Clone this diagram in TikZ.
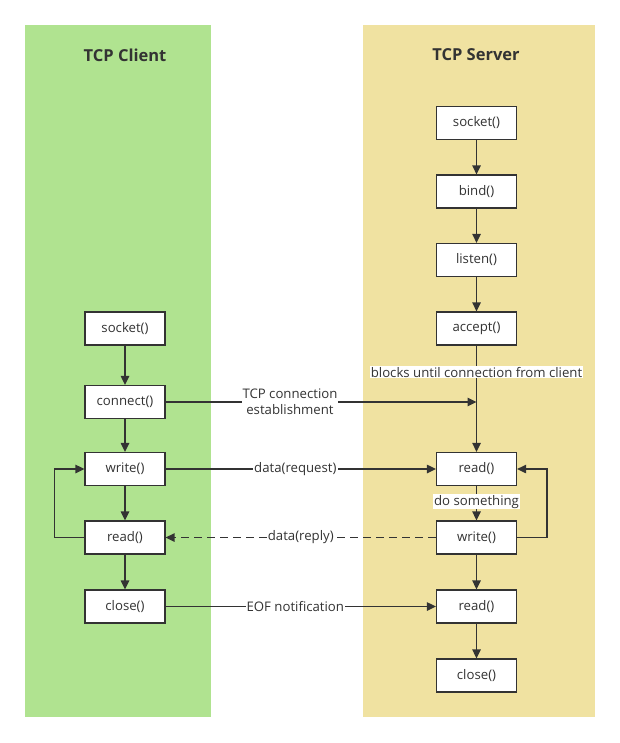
\documentclass[tikz,border=0pt]{standalone}
\usepackage{fontspec}
\setmainfont{Open Sans}
\usetikzlibrary{arrows.meta}
\definecolor{cgreen}{RGB}{176,227,144}
\definecolor{cyellow}{RGB}{240,226,161}
\definecolor{cline}{RGB}{51,51,51}
\begin{document}
\begin{tikzpicture}[x=1pt,y=-1pt,
  fn/.style={draw=cline, line width=1.3pt, fill=white, minimum width=80pt, minimum height=33pt, inner sep=0pt, font=\fontsize{13.2}{15}\selectfont, text=cline},
  arr/.style={draw=cline, line width=1.4pt, -{Triangle[length=9pt,width=8.5pt]}},
  lbl/.style={fill=white, inner sep=1pt, font=\fontsize{13.2}{15}\selectfont, text=cline},
  ttl/.style={font=\fontsize{16.5}{19}\selectfont\bfseries, text=cline},
  lane/.style={inner sep=0pt, anchor=north west, draw=none}]
\useasboundingbox (0,0) rectangle (620,743);
\fill[white] (0,0) rectangle (620,743);
\node[lane, fill=cgreen, minimum width=186pt, minimum height=692pt] (clientlane) at (25,25) {};
\node[lane, fill=cyellow, minimum width=232pt, minimum height=692pt] (serverlane) at (363,25) {};
\node[ttl] (ctitle) at (125,55) {TCP Client};
\node[ttl] (stitle) at (476,55) {TCP Server};
% client
\node[fn] (cs) at (125,328.5) {socket()};
\node[fn] (cc) at (125,402) {connect()};
\node[fn] (cw) at (125,469) {write()};
\node[fn] (cr) at (125,537.5) {read()};
\node[fn] (cl) at (125,606.5) {close()};
% server
\node[fn] (ss) at (476.5,123) {socket()};
\node[fn] (sb) at (476.5,191.5) {bind()};
\node[fn] (sl) at (476.5,260) {listen()};
\node[fn] (sa) at (476.5,328.5) {accept()};
\node[fn] (sr) at (476.5,469) {read()};
\node[fn] (sw) at (476.5,537.5) {write()};
\node[fn] (sr2) at (476.5,606.5) {read()};
\node[fn] (sc) at (476.5,675.5) {close()};
\coordinate (meet) at (476.5,402);
% client flow
\draw[arr] (cs) -- (cc);
\draw[arr] (cc) -- (cw);
\draw[arr] (cw) -- (cr);
\draw[arr] (cr) -- (cl);
\draw[arr] (cr.west) -- ++(-30,0) |- (cw.west);
% server flow
\draw[arr] (ss) -- (sb);
\draw[arr] (sb) -- (sl);
\draw[arr] (sl) -- (sa);
\draw[arr] (sa) -- node[lbl, pos=0.25] {blocks until connection from client} (sr);
\draw[arr] (sr) -- node[lbl, pos=0.46] {do something} (sw);
\draw[arr] (sw) -- (sr2);
\draw[arr] (sr2) -- (sc);
\draw[arr] (sw.east) -- ++(30,0) |- (sr.east);
% messages
\draw[arr] (cc.east) -- node[lbl, pos=0.4, align=center, font=\fontsize{13.2}{16}\selectfont] {TCP connection\\establishment} (meet);
\draw[arr] (cw.east) -- node[lbl, pos=0.48] {data(request)} (sr.west);
\draw[arr, dash pattern=on 8pt off 5pt] (sw.west) -- node[lbl, pos=0.5] {data(reply)} (cr.east);
\draw[arr] (cl.east) -- node[lbl, pos=0.48] {EOF notification} (sr2.west);
\end{tikzpicture}
\end{document}
